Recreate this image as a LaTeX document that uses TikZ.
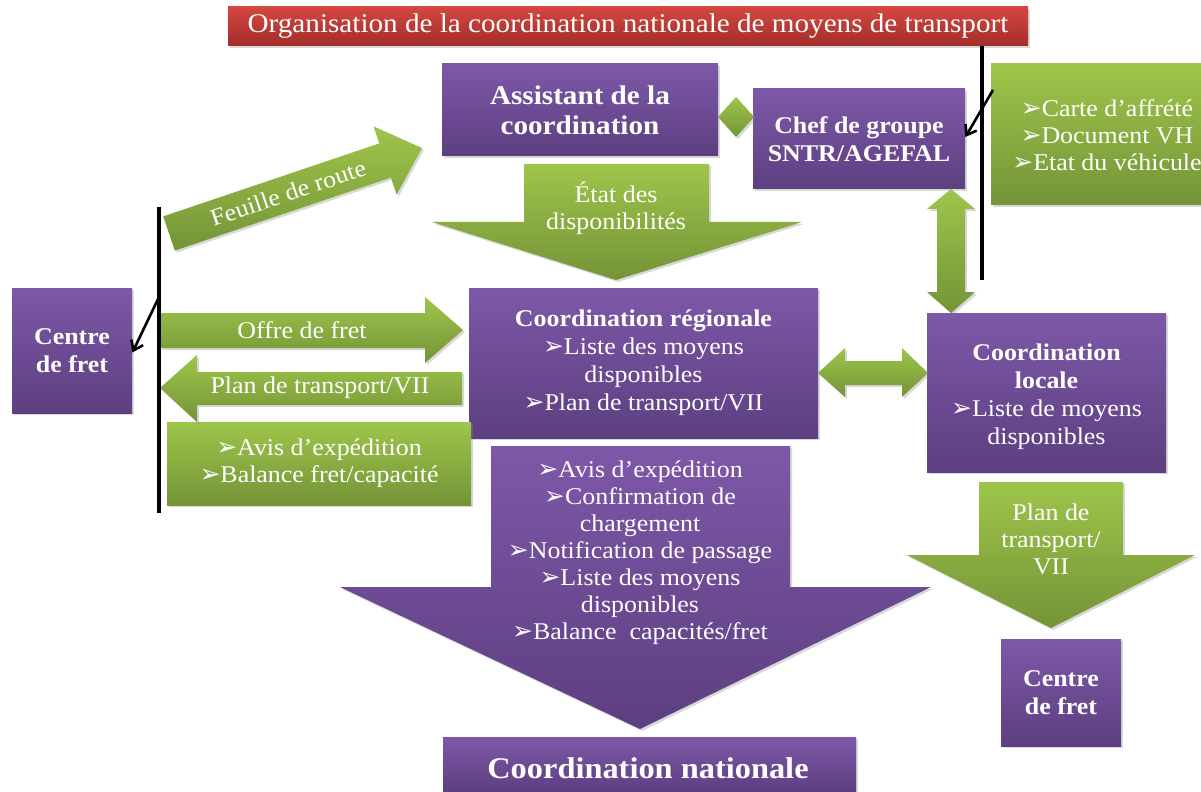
\documentclass[tikz,border=0pt]{standalone}
\usepackage{fontspec}
\setmainfont[FakeStretch=1.08]{Liberation Serif}
\newfontfamily\dvsym{DejaVu Sans}
\usetikzlibrary{arrows.meta,shadows}
\definecolor{purT}{HTML}{7D58A8}
\definecolor{purB}{HTML}{5D3F80}
\definecolor{grnT}{HTML}{9EC54B}
\definecolor{grnB}{HTML}{749437}
\definecolor{redT}{HTML}{D44741}
\definecolor{redB}{HTML}{A22D2A}
\newcommand\bul{{\dvsym\fontsize{12.5}{10}\selectfont\char"27A2}}
\newcommand\ftreg{\fontsize{12}{13.5}\selectfont}
\newcommand\ftbld{\fontsize{12}{14}\selectfont\bfseries}
\newcommand\ftassist{\fontsize{13.5}{15}\selectfont\bfseries}
\newcommand\ftnat{\fontsize{15}{17}\selectfont\bfseries}
\newcommand\fttitle{\fontsize{13.5}{15}\selectfont}
\tikzset{
  shd/.style={drop shadow={opacity=0.3,shadow xshift=1pt,shadow yshift=-1pt}},
  pbox/.style={shd, top color=purT, bottom color=purB, text=white, align=center, inner sep=0pt, font=\ftbld},
  gbox/.style={shd, top color=grnT, bottom color=grnB, text=white, align=center, inner sep=0pt, font=\ftreg},
  rbox/.style={shd, top color=redT, bottom color=redB, text=white, align=center, inner sep=0pt, font=\fttitle},
  parrow/.style={shd, top color=purT, bottom color=purB},
  garrow/.style={shd, top color=grnT, bottom color=grnB},
  lbl/.style={text=white, align=center, inner sep=0pt, font=\ftreg},
  blk/.style={line width=1.6pt, black},
  ptr/.style={line width=1.3pt, black, -{Straight Barb[length=4.5pt,width=6.5pt]}},
}
\begin{document}
\begin{tikzpicture}[x=0.5pt,y=-0.5pt]
\useasboundingbox (0,0) rectangle (1201,792);
\fill[white] (0,0) rectangle (1201,792);

% title
\node[rbox, minimum width=400pt, minimum height=19.5pt] (title) at (628,26.5)
  {Organisation de la coordination nationale de moyens de transport};

% boxes
\node[pbox, font=\ftassist, minimum width=138pt, minimum height=46pt] (assist) at (580,110)
  {Assistant de la\\coordination};
\node[pbox, minimum width=106pt, minimum height=50pt] (chef) at (859,139)
  {Chef de groupe\\SNTR/AGEFAL};
\node[gbox, minimum width=105pt, minimum height=70.5pt] (docs) at (1096,134.5) {};
\node[lbl] (docstxt) at (1107,135)
  {\bul Carte d’affrété\\\bul Document VH\\\bul Etat du véhicule};
\node[pbox, minimum width=174.5pt, minimum height=75pt] (reg) at (643.5,363)
  {Coordination régionale\\\mdseries\bul Liste des moyens\\\mdseries disponibles\\\mdseries\bul Plan de transport/VII};
\node[pbox, minimum width=60pt, minimum height=62.5pt] (cfL) at (72,350.5)
  {Centre\\de fret};
\node[gbox, minimum width=152pt, minimum height=41.5pt] (avis) at (319,463.5)
  {\bul Avis d’expédition\\\bul Balance fret/capacité};
\node[pbox, minimum width=119.5pt, minimum height=79.5pt] (loc) at (1046.5,392.5)
  {\rule{0pt}{13pt}Coordination\\locale\\\mdseries\bul Liste de moyens\\\mdseries disponibles};
\node[pbox, minimum width=60pt, minimum height=53.5pt] (cfR) at (1061,692.5)
  {Centre\\de fret};
\node[pbox, font=\ftnat, minimum width=206.5pt, minimum height=27.5pt] (nat) at (649.5,764.5) {};
\node[lbl, font=\ftnat] (nattxt) at (648,768) {Coordination nationale};

% diamond
\path[garrow] (736,97) -- (754,117) -- (736,137) -- (718,117) -- cycle;

% block arrows
\path[garrow] (163.2,216.4) -- (379.3,143.4) -- (373.6,126.4) -- (422,148)
  -- (396.6,194.6) -- (390.9,177.6) -- (174.8,250.6) -- cycle;
\node[lbl, rotate=18.67] (feuille) at (288,193) {Feuille de route};

\path[garrow] (524,164) -- (709,164) -- (709,222) -- (802,222) -- (616,280)
  -- (432,222) -- (524,222) -- cycle;
\node[lbl] (etat) at (616,208) {État des\\disponibilités};

\path[garrow] (160,313) -- (425,313) -- (425,297) -- (463,330) -- (425,363)
  -- (425,348) -- (160,348) -- cycle;
\node[lbl] (offre) at (302,330) {Offre de fret};

\path[garrow] (462,372) -- (197,372) -- (197,355) -- (160,388) -- (197,422)
  -- (197,405) -- (462,405) -- cycle;
\node[lbl] (plan) at (320,388) {Plan de transport/VII};

\path[garrow] (845,361) -- (902,361) -- (902,348) -- (928,373) -- (902,397)
  -- (902,385) -- (845,385) -- (845,397) -- (818,373) -- (845,348) -- cycle;

\path[garrow] (951,189) -- (975,209) -- (965,209) -- (965,292) -- (975,292)
  -- (951,313) -- (927,292) -- (937,292) -- (937,209) -- (927,209) -- cycle;

\path[garrow] (979,482) -- (1123,482) -- (1123,555) -- (1195,555) -- (1051,628)
  -- (907,555) -- (979,555) -- cycle;
\node[lbl] (planR) at (1051,539) {Plan de\\transport/\\VII};

\path[parrow] (491,446) -- (790,446) -- (790,587) -- (931,587) -- (640,729)
  -- (340,587) -- (491,587) -- cycle;
\node[lbl] (bigtxt) at (640,553)
  {\bul Avis d’expédition\\\bul Confirmation de\\chargement\\\bul Notification de passage\\\bul Liste des moyens\\disponibles\\\bul Balance\ \ capacités/fret};

% black lines and pointers
\coordinate (lTop) at (159,207);
\coordinate (lBot) at (159,513);
\coordinate (lArr) at (159,297);
\draw[blk] (lTop) -- (lBot);
\draw[ptr] (lArr) -- ([yshift=-1pt]cfL.east);

\coordinate (rTop) at (982,46);
\coordinate (rBot) at (982,280);
\coordinate (rArr) at (993,90);
\draw[blk] (rTop) -- (rBot);
\draw[ptr] (rArr) -- ([yshift=1pt]chef.east);
\end{tikzpicture}
\end{document}
